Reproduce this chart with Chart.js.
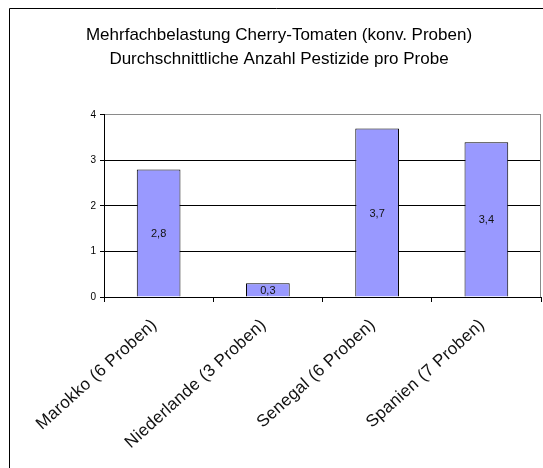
<!DOCTYPE html>
<html>
<head>
<meta charset="utf-8">
<style>
  html, body { margin: 0; padding: 0; background: #fff; }
  #wrap { width: 543px; height: 468px; position: relative; }
</style>
<script src="https://cdn.jsdelivr.net/npm/chart.js@4/dist/chart.umd.min.js"></script>
</head>
<body>
<div id="wrap"><canvas id="chart" width="543" height="468"></canvas></div>
<script>
// Herkunftsländer und durchschnittliche Anzahl Pestizide pro Probe
const categories = ['Marokko (6 Proben)', 'Niederlande (3 Proben)', 'Senegal (6 Proben)', 'Spanien (7 Proben)'];
const averagePesticides = [2.8, 0.3, 3.7, 3.4];
const titleLines = ['Mehrfachbelastung Cherry-Tomaten (konv. Proben)', 'Durchschnittliche Anzahl Pestizide pro Probe'];
const yTicks = [0, 1, 2, 3, 4];

const FONT = '"Liberation Sans", Arial, sans-serif';

// Rahmen um das Diagramm und um die Zeichenfläche
const framePlugin = {
  id: 'frame',
  beforeDraw(chart) {
    const ctx = chart.ctx;
    ctx.save();
    ctx.strokeStyle = '#000';
    ctx.lineWidth = 1;
    ctx.beginPath();
    ctx.moveTo(9.5, chart.height + 2);
    ctx.lineTo(9.5, 8.5);
    ctx.lineTo(chart.width + 2, 8.5);
    ctx.stroke();
    ctx.restore();
  },
  afterDatasetsDraw(chart) {
    const a = chart.chartArea;
    const ctx = chart.ctx;
    ctx.save();
    ctx.strokeStyle = '#8a8a8a';
    ctx.lineWidth = 1;
    ctx.beginPath();
    ctx.moveTo(Math.round(a.right) - 0.5, a.top);
    ctx.lineTo(Math.round(a.right) - 0.5, a.bottom);
    ctx.stroke();
    ctx.restore();
  }
};

// Wertbeschriftung mittig in jedem Balken
const valueLabelPlugin = {
  id: 'valueLabels',
  afterDatasetsDraw(chart) {
    const ctx = chart.ctx;
    const meta = chart.getDatasetMeta(0);
    const data = chart.data.datasets[0].data;
    ctx.save();
    ctx.font = '11px ' + FONT;
    ctx.fillStyle = '#111';
    ctx.textAlign = 'center';
    ctx.textBaseline = 'middle';
    meta.data.forEach((bar, i) => {
      const p = bar.getProps(['x', 'y', 'base'], true);
      const text = data[i].toLocaleString('de-DE');
      ctx.fillText(text, p.x, (p.y + p.base) / 2 + 1);
    });
    ctx.restore();
  }
};

// Kategoriebeschriftung mit leichtem Zeichenabstand
function spacedLabels(scale) {
  if (scale._spaced) return;
  scale._spaced = true;
  const original = scale.drawLabels.bind(scale);
  scale.drawLabels = function (area) {
    const ctx = this.ctx;
    ctx.save();
    ctx.letterSpacing = '0.3px';
    original(area);
    ctx.restore();
  };
}

new Chart(document.getElementById('chart'), {
  type: 'bar',
  data: {
    labels: categories,
    datasets: [{
      data: averagePesticides,
      backgroundColor: '#9999ff',
      borderColor: '#000',
      borderWidth: 1,
      barPercentage: 0.4,
      categoryPercentage: 1
    }]
  },
  options: {
    responsive: false,
    animation: false,
    devicePixelRatio: 1,
    layout: { padding: { left: 17, right: 2, top: 0, bottom: 0 } },
    plugins: {
      legend: { display: false },
      tooltip: { enabled: false },
      title: {
        display: true,
        text: titleLines,
        color: '#000',
        font: { family: FONT, size: 17, weight: 'normal', lineHeight: 1.38 },
        padding: { top: 24, bottom: 44 }
      }
    },
    scales: {
      x: {
        offset: true,
        grid: {
          offset: true,
          drawOnChartArea: false,
          drawTicks: true,
          tickLength: 5,
          color: '#000'
        },
        border: { color: '#000', width: 1 },
        ticks: {
          color: '#111',
          font: { family: FONT, size: 17 },
          minRotation: 42,
          maxRotation: 42,
          padding: 13,
          labelOffset: -4
        },
        afterFit(scale) { scale.height = 171; spacedLabels(scale); }
      },
      y: {
        min: 0,
        max: 4,
        afterBuildTicks(scale) { scale.ticks = yTicks.map(v => ({ value: v })); },
        grid: {
          color: ctx => (ctx.tick && ctx.tick.value === 4 ? '#8a8a8a' : '#000'),
          tickColor: '#000',
          tickLength: 4,
          drawTicks: true
        },
        border: { color: '#000', width: 1 },
        ticks: {
          color: '#000',
          font: { family: FONT, size: 10 },
          padding: 4
        },
        afterFit(scale) { scale.width = 87; }
      }
    }
  },
  plugins: [framePlugin, valueLabelPlugin]
});
</script>
</body>
</html>
